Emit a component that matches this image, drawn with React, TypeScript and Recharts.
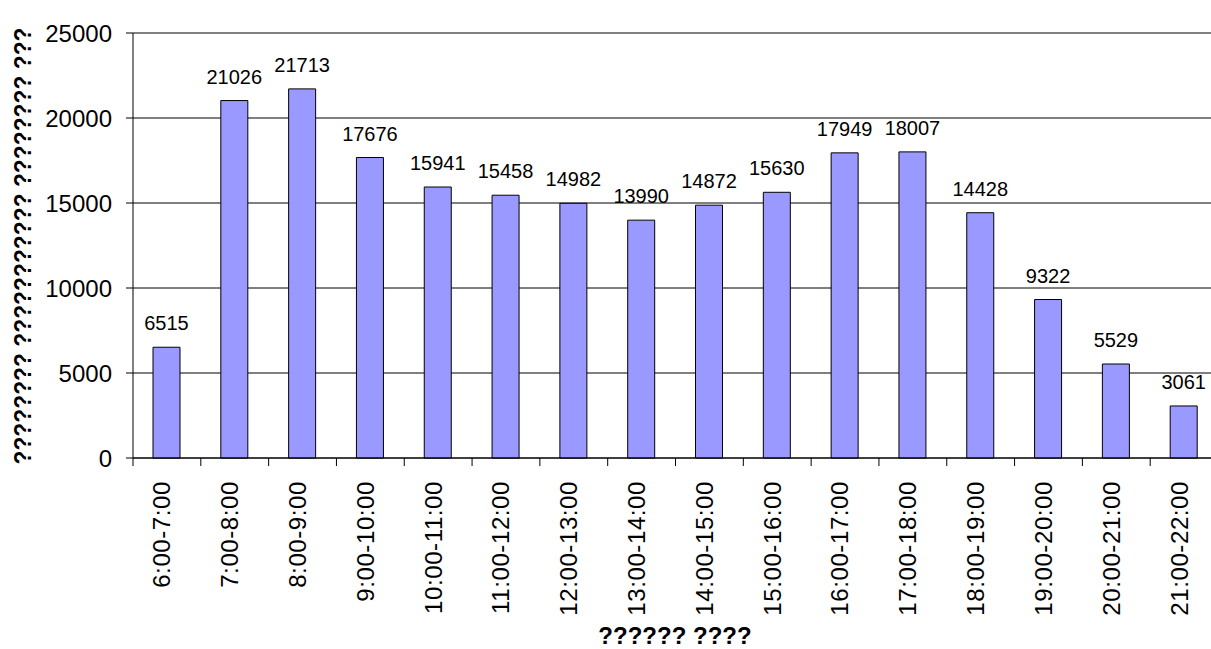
import { Bar, BarChart, CartesianGrid, LabelList, XAxis, YAxis } from "recharts"

const hours = [
  "6:00-7:00",
  "7:00-8:00",
  "8:00-9:00",
  "9:00-10:00",
  "10:00-11:00",
  "11:00-12:00",
  "12:00-13:00",
  "13:00-14:00",
  "14:00-15:00",
  "15:00-16:00",
  "16:00-17:00",
  "17:00-18:00",
  "18:00-19:00",
  "19:00-20:00",
  "20:00-21:00",
  "21:00-22:00",
]

const counts = [6515, 21026, 21713, 17676, 15941, 15458, 14982, 13990, 14872, 15630, 17949, 18007, 14428, 9322, 5529, 3061]

const yTicks = [0, 5000, 10000, 15000, 20000, 25000]

const xTitle = "?????? ????"
const yTitle = "???????? ??????????? ???????? ???"

const data = hours.map((hour, i) => ({ hour, count: counts[i] }))

const font = "'Liberation Sans', Arial, sans-serif"
const halfBand = 1085 / 16 / 2

const HourTick = (props: any) => {
  const { x, y, payload } = props
  return (
    <g>
      <line x1={x - halfBand} x2={x - halfBand} y1={y - 8} y2={y} stroke="#000" />
      <text
        transform={`translate(${x - 5},${y + 15}) rotate(-90)`}
        textAnchor="end"
        dy="0.35em"
        fontSize={24}
        letterSpacing={0.6}
        fontFamily={font}
        fill="#000"
      >
        {payload.value}
      </text>
    </g>
  )
}

export default function App() {
  return (
    <div style={{ position: "absolute", left: 0, top: 0, width: 1211, height: 649, overflow: "hidden", background: "#fff" }}>
      <BarChart
        width={1218}
        height={649}
        data={data}
        margin={{ top: 33, right: 0, left: 0, bottom: 0 }}
        barSize={27}
      >
        <CartesianGrid vertical={false} stroke="#000" />
        <XAxis
          dataKey="hour"
          interval={0}
          height={191}
          tickLine={false}
          axisLine={{ stroke: "#000" }}
          tick={<HourTick />}
          label={{
            content: () => (
              <text x={675} y={644} textAnchor="middle" fontSize={24} fontWeight="bold" fontFamily={font} fill="#000">
                {xTitle}
              </text>
            ),
          }}
        />
        <YAxis
          width={133}
          domain={[0, 25000]}
          ticks={yTicks}
          interval={0}
          tickSize={7}
          tickMargin={14}
          axisLine={{ stroke: "#000" }}
          tickLine={{ stroke: "#000" }}
          tick={{ fill: "#000", fontSize: 24, fontFamily: font }}
          label={{
            content: () => (
              <text
                transform="translate(31,246) rotate(-90)"
                textAnchor="middle"
                fontSize={23}
                fontWeight="bold"
                fontFamily={font}
                fill="#000"
                textLength={437}
                lengthAdjust="spacingAndGlyphs"
              >
                {yTitle}
              </text>
            ),
          }}
        />
        <Bar dataKey="count" fill="#9999FF" stroke="#000" strokeWidth={1} isAnimationActive={false}>
          <LabelList dataKey="count" position="top" offset={17} fill="#000" fontSize={20} fontFamily={font} />
        </Bar>
      </BarChart>
    </div>
  )
}
